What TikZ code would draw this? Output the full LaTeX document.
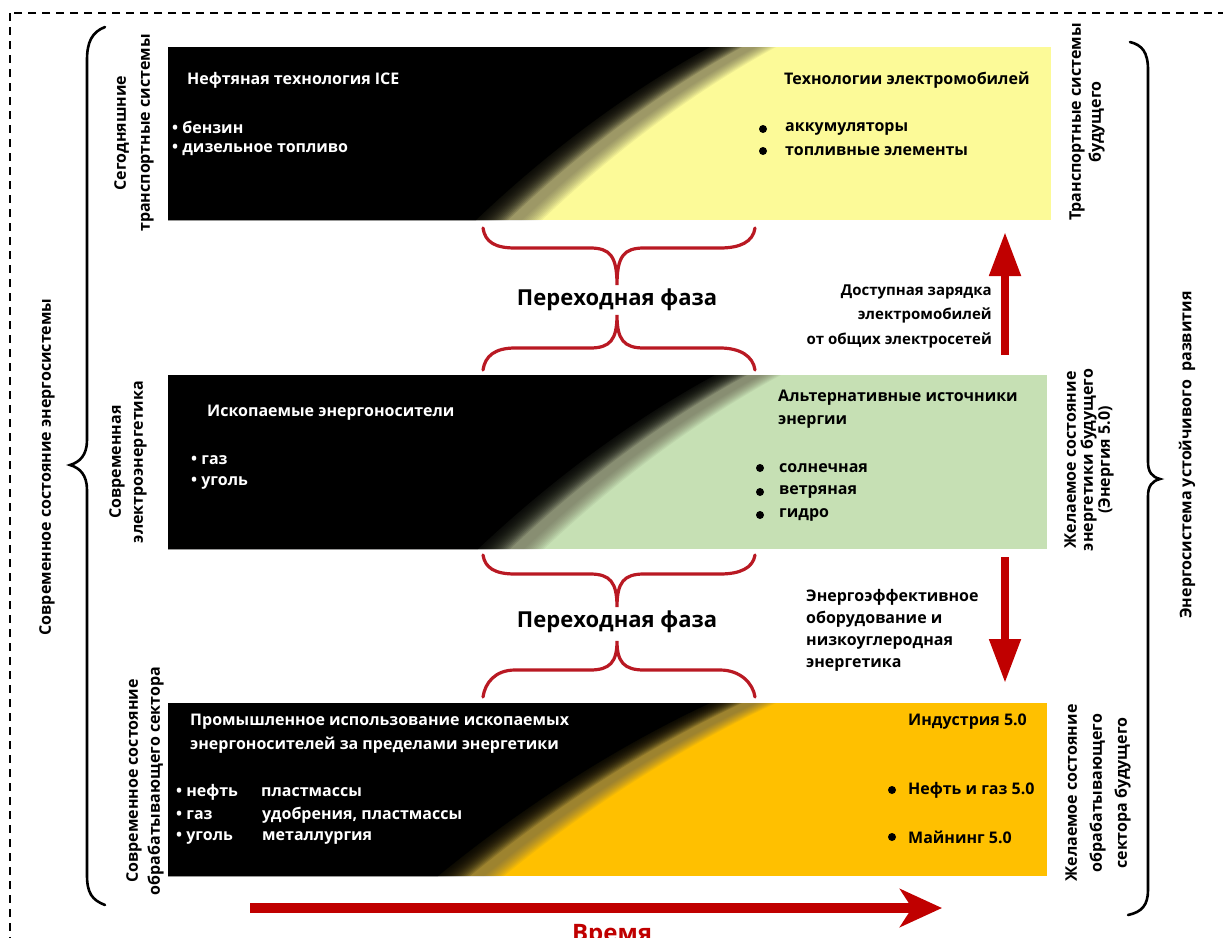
\documentclass[tikz,border=0pt]{standalone}
\usepackage{fontspec}
\setmainfont{Open Sans}
\usetikzlibrary{arrows.meta}
\definecolor{evyel}{RGB}{252,250,152}
\definecolor{evgreen}{RGB}{198,224,180}
\definecolor{evorange}{RGB}{255,192,0}
\definecolor{evred}{RGB}{192,0,0}
\definecolor{brred}{RGB}{185,25,35}
\definecolor{haze}{RGB}{105,100,80}
% #1 left #2 top #3 right #4 bottom #5 colour #6 x at bottom #7 x at top
\newcommand\gradedge[5]{% #1 left #2 top #3 bottom #4 xb+offset #5 xt+offset, uses \xbdiff
  (#1,#2) -- (#5,#2)
  .. controls ({#4+0.62*\xbdiff},{#3-0.72*(#3-#2)}) and ({#4+0.28*\xbdiff},{#3-0.36*(#3-#2)})
  .. (#4,#3) -- (#1,#3) -- cycle}
\newcommand\gradpanel[7]{%
  \begin{scope}
    \clip (#1,#2) rectangle (#3,#4);
    \fill[#5] (#1,#2) rectangle (#3,#4);
    \pgfmathsetmacro\xbdiff{#7-#6}
    \foreach \dd in {34,32,...,14} {
      \fill[haze,opacity=0.085] \gradedge{#1}{#2}{#4}{#6+\dd}{#7+\dd};
    }
    \foreach \dd in {0,-2,...,-30} {
      \fill[black,opacity=0.13] \gradedge{#1}{#2}{#4}{#6+\dd}{#7+\dd};
    }
    \fill[black] \gradedge{#1}{#2}{#4}{#6-32}{#7-32};
  \end{scope}}
\tikzset{
  txt/.style={font=\bfseries\fontsize{16}{19}\selectfont, inner sep=0pt, anchor=west},
  wtxt/.style={txt, text=white},
  side/.style={font=\bfseries\fontsize{16}{#1}\selectfont, inner sep=0pt, rotate=90, align=center},
  phase/.style={font=\bfseries\fontsize{22}{26}\selectfont, inner sep=0pt},
  note/.style={font=\bfseries\fontsize{15}{#1}\selectfont, inner sep=0pt},
  redbrace/.style={draw=brred, line width=3.2pt, line cap=round},
  blkbrace/.style={draw=black, line width=2.6pt, line cap=round},
  bigarrow/.style={draw=evred, line width=8pt, -{Triangle[length=44pt,width=30pt]}},
  bul/.style={fill=black}
}
\begin{document}
\begin{tikzpicture}[x=1pt,y=-1pt]
\useasboundingbox (0,0) rectangle (1223,937);
\clip (0,0) rectangle (1223,937);
\fill[white] (0,0) rectangle (1223,937);
\draw[line width=1.6pt, dash pattern=on 8pt off 6pt] (10,13) rectangle (1250,970);

% panels
\gradpanel{168}{47}{1051}{220}{evyel}{508}{742}
\gradpanel{168}{375}{1047}{549}{evgreen}{510}{747}
\gradpanel{168}{703}{1047}{876}{evorange}{470}{742}

% big black braces
\draw[blkbrace] (105,27) .. controls (92,32) and (87,42) .. (87,60) -- (87,440)
  .. controls (87,455) and (80,462) .. (70,465) .. controls (80,468) and (87,475) .. (87,490)
  -- (87,875) .. controls (87,893) and (92,900) .. (105,905);
\draw[blkbrace] (1130,42) .. controls (1142,45) and (1148,52) .. (1148,70) -- (1148,462)
  .. controls (1148,472) and (1152,477) .. (1160,479) .. controls (1152,481) and (1148,486) .. (1148,496)
  -- (1148,890) .. controls (1148,905) and (1142,912) .. (1128,915);

% red braces, first transition
\draw[redbrace] (483,228) .. controls (485,242) and (495,248) .. (515,248) -- (590,248)
  .. controls (610,248) and (617,256) .. (617,285)
  .. controls (617,256) and (624,248) .. (644,248) -- (720,248)
  .. controls (740,248) and (753,242) .. (755,228);
\draw[redbrace] (483,370) .. controls (485,356) and (495,348) .. (515,348) -- (590,348)
  .. controls (610,348) and (617,340) .. (617,315)
  .. controls (617,340) and (624,348) .. (644,348) -- (720,348)
  .. controls (740,348) and (753,356) .. (755,370);
\node[phase] (ph1) at (617,300) {Переходная фаза};

% red braces, second transition
\draw[redbrace] (483,555) .. controls (485,568) and (495,574) .. (515,574) -- (590,574)
  .. controls (610,574) and (617,582) .. (617,607)
  .. controls (617,582) and (624,574) .. (644,574) -- (720,574)
  .. controls (740,574) and (753,568) .. (755,555);
\draw[redbrace] (483,697) .. controls (485,683) and (495,670) .. (515,670) -- (590,670)
  .. controls (610,670) and (617,662) .. (617,641)
  .. controls (617,662) and (624,670) .. (644,670) -- (720,670)
  .. controls (740,670) and (753,683) .. (755,697);
\node[phase] (ph2) at (617,622) {Переходная фаза};

% vertical arrows
\coordinate (ua0) at (1005,355); \coordinate (ua1) at (1005,232);
\draw[bigarrow] (ua0) -- (ua1);
\coordinate (da0) at (1005,557); \coordinate (da1) at (1005,683);
\draw[bigarrow] (da0) -- (da1);
\node[note=24.5pt, align=right, anchor=east] (charge) at (992,316)
  {Доступная зарядка\\электромобилей\\от общих электросетей};
\node[note=22pt, align=left, anchor=west, font=\bfseries\fontsize{16}{22}\selectfont] (eff) at (806,630)
  {Энергоэффективное\\оборудование и\\низкоуглеродная\\энергетика};

% time arrow
\coordinate (ta0) at (250,908); \coordinate (ta1) at (942,908);
\draw[draw=evred, line width=10pt, -{Stealth[length=42pt,width=38pt,inset=12pt]}] (ta0) -- (ta1);
\node[font=\bfseries\fontsize{24}{28}\selectfont, text=evred, inner sep=0pt, anchor=base] (time) at (612,941) {Время};

% side labels
\node[side=24pt] (l1) at (134,133) {Сегодняшние\\транспортные системы};
\node[side=22pt] (l2) at (128,462) {Современная\\электроэнергетика};
\node[side=22pt] (l3) at (145,781) {Современное состояние\\обрабатывающего сектора};
\node[side=20pt] (r1) at (1087,122) {Транспортные системы\\будущего};
\node[side=17pt] (r2) at (1089,460) {Желаемое состояние\\энергетики будущего\\(Энергия 5.0)};
\node[side=25pt] (r3) at (1098,793) {Желаемое состояние\\обрабатывающего\\сектора будущего};
\node[side=17pt] (bl) at (47,467) {Современное состояние энергосистемы};
\node[side=17pt] (br) at (1187,455) {Энергосистема устойчивого\ \ развития};

% panel 1 texts
\node[wtxt] (ice) at (187,80) {Нефтяная технология ICE};
\node[wtxt] (benz) at (172,127) {• бензин};
\node[wtxt] (dies) at (172,150) {• дизельное топливо};
\node[txt] (evt) at (784,80) {Технологии электромобилей};
\fill[bul] (763,129) circle (4pt); \fill[bul] (763,151) circle (4pt);
\node[txt] (acc) at (785,129) {аккумуляторы};
\node[txt] (fuel) at (785,151) {топливные элементы};

% panel 2 texts
\node[wtxt] (fos) at (207,413) {Ископаемые энергоносители};
\node[wtxt] (gas) at (191,460) {• газ};
\node[wtxt] (coal) at (191,483) {• уголь};
\node[txt, anchor=north west, align=left, font=\bfseries\fontsize{16}{23}\selectfont] (alt) at (778,390) {Альтернативные источники\\энергии};
\fill[bul] (760,468) circle (4pt); \fill[bul] (760,492) circle (4pt); \fill[bul] (760,515) circle (4pt);
\node[txt] (sol) at (779,468) {солнечная};
\node[txt] (wind) at (779,492) {ветряная};
\node[txt] (hydro) at (779,515) {гидро};

% panel 3 texts
\node[wtxt, align=left, font=\bfseries\fontsize{16}{24}\selectfont] (ind) at (190,734)
  {Промышленное использование ископаемых\\энергоносителей за пределами энергетики};
\node[wtxt] (oil) at (176,792) {• нефть};
\node[wtxt] (plast) at (261,792) {пластмассы};
\node[wtxt] (gas3) at (176,815) {• газ};
\node[wtxt] (fert) at (262,815) {удобрения, пластмассы};
\node[wtxt] (coal3) at (176,838) {• уголь};
\node[wtxt] (met) at (262,838) {металлургия};
\node[txt] (i5) at (908,722) {Индустрия 5.0};
\fill[bul] (892,790) circle (4pt); \fill[bul] (892,837) circle (4pt);
\node[txt] (og5) at (908,790) {Нефть и газ 5.0};
\node[txt] (m5) at (908,837) {Майнинг 5.0};
\end{tikzpicture}
\end{document}
